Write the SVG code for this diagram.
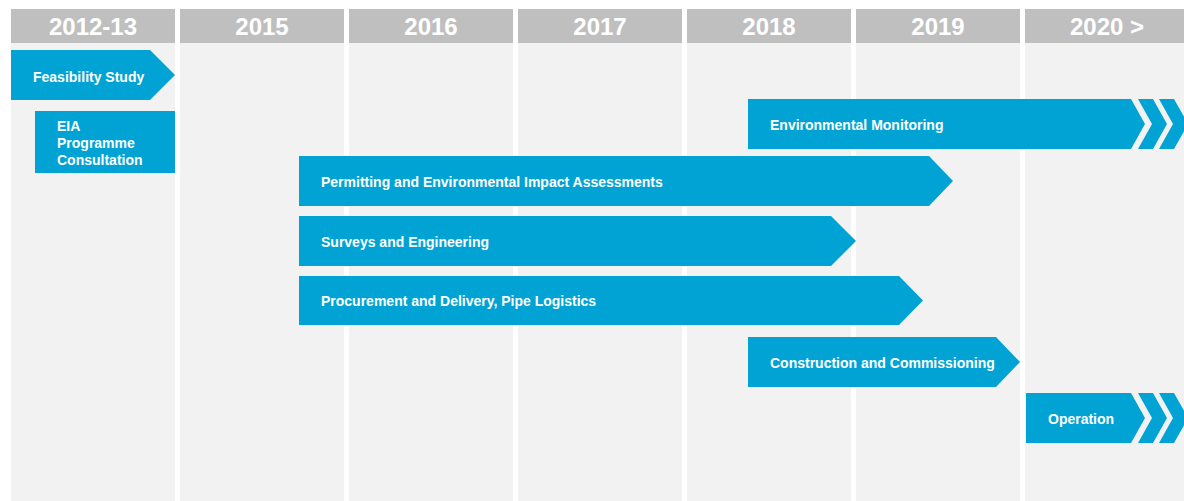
<svg xmlns="http://www.w3.org/2000/svg" width="1184" height="501" viewBox="0 0 1184 501">
  <style>
    .col { fill: #f2f2f2; }
    .head { fill: #bfbfbf; }
    .year { font-family: "Liberation Sans", Arial, sans-serif; font-weight: bold; font-size: 24px; fill: #ffffff; text-anchor: middle; }
    .bar { fill: #00a3d4; }
    .lbl { font-family: "Liberation Sans", Arial, sans-serif; font-weight: bold; font-size: 14px; fill: #ffffff; }
  </style>
  <defs>
    <!-- repeating double chevron used on open-ended phases -->
    <g id="chev">
      <polygon class="bar" points="0,0 15,0 29,25 15,50 0,50 14,25"/>
      <polygon class="bar" points="21,0 36,0 50,25 36,50 21,50 35,25"/>
    </g>
  </defs>
  <rect width="1184" height="501" fill="#ffffff"/>

  <!-- year columns -->
  <g id="columns">
    <g id="col-2012">
      <rect class="col" x="11" y="43" width="164" height="458"/>
      <rect class="head" x="11" y="9" width="164" height="34"/>
      <text class="year" x="93" y="35">2012-13</text>
    </g>
    <g id="col-2015">
      <rect class="col" x="180" y="43" width="164" height="458"/>
      <rect class="head" x="180" y="9" width="164" height="34"/>
      <text class="year" x="262" y="35">2015</text>
    </g>
    <g id="col-2016">
      <rect class="col" x="349" y="43" width="164" height="458"/>
      <rect class="head" x="349" y="9" width="164" height="34"/>
      <text class="year" x="431" y="35">2016</text>
    </g>
    <g id="col-2017">
      <rect class="col" x="518" y="43" width="164" height="458"/>
      <rect class="head" x="518" y="9" width="164" height="34"/>
      <text class="year" x="600" y="35">2017</text>
    </g>
    <g id="col-2018">
      <rect class="col" x="687" y="43" width="164" height="458"/>
      <rect class="head" x="687" y="9" width="164" height="34"/>
      <text class="year" x="769" y="35">2018</text>
    </g>
    <g id="col-2019">
      <rect class="col" x="856" y="43" width="164" height="458"/>
      <rect class="head" x="856" y="9" width="164" height="34"/>
      <text class="year" x="938" y="35">2019</text>
    </g>
    <g id="col-2020">
      <rect class="col" x="1025" y="43" width="164" height="458"/>
      <rect class="head" x="1025" y="9" width="164" height="34"/>
      <text class="year" x="1107" y="35">2020 &gt;</text>
    </g>
  </g>

  <!-- phases -->
  <g id="feasibility">
    <polygon class="bar" points="11,50 150,50 175,75 150,100 11,100"/>
    <text class="lbl" x="33" y="82">Feasibility Study</text>
  </g>

  <g id="eia">
    <rect class="bar" x="35" y="111" width="140" height="62"/>
    <text class="lbl" x="57" y="131">EIA</text>
    <text class="lbl" x="57" y="148">Programme</text>
    <text class="lbl" x="57" y="165">Consultation</text>
  </g>

  <g id="monitoring">
    <polygon class="bar" points="748,99 1131,99 1145,124 1131,149 748,149"/>
    <use href="#chev" x="1138" y="99"/>
    <text class="lbl" x="770" y="130">Environmental Monitoring</text>
  </g>

  <g id="permitting">
    <polygon class="bar" points="299,156 929,156 953,181 929,206 299,206"/>
    <text class="lbl" x="321" y="187">Permitting and Environmental Impact Assessments</text>
  </g>

  <g id="surveys">
    <polygon class="bar" points="299,216 831,216 856,241 831,266 299,266"/>
    <text class="lbl" x="321" y="247">Surveys and Engineering</text>
  </g>

  <g id="procurement">
    <polygon class="bar" points="299,276 899,276 923,300.5 899,325 299,325"/>
    <text class="lbl" x="321" y="306">Procurement and Delivery, Pipe Logistics</text>
  </g>

  <g id="construction">
    <polygon class="bar" points="748,337 996,337 1020,362 996,387 748,387"/>
    <text class="lbl" x="770" y="367.5">Construction and Commissioning</text>
  </g>

  <g id="operation">
    <polygon class="bar" points="1026,393 1131,393 1145,418 1131,443 1026,443"/>
    <use href="#chev" x="1138" y="393"/>
    <text class="lbl" x="1048" y="423.5">Operation</text>
  </g>

  <!-- no connectors in this chart -->
  <g id="connectors"/>
</svg>
